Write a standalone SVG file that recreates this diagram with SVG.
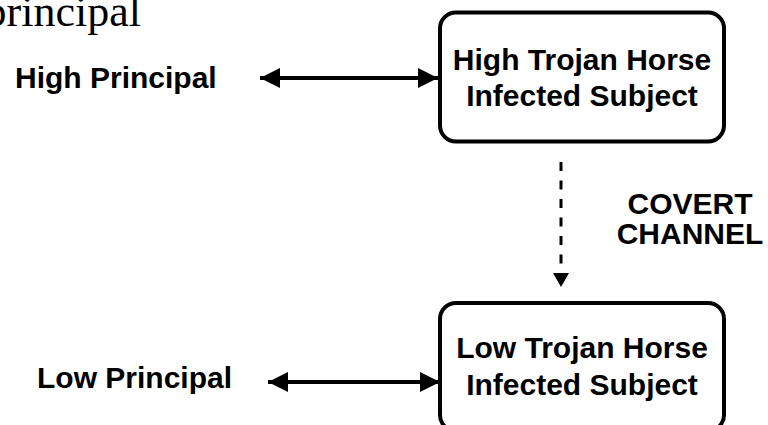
<svg xmlns="http://www.w3.org/2000/svg" width="768" height="425" viewBox="0 0 768 425">
<style>
.lbl{font-family:"Liberation Sans",Arial,sans-serif;font-weight:bold;font-size:30px;fill:#000}
.box{fill:#fff;stroke:#000;stroke-width:4}
.conn{stroke:#000;stroke-width:4;fill:none}
</style>
<defs>
<marker id="ah" viewBox="0 0 20 20" refX="20" refY="10" markerWidth="20" markerHeight="20" markerUnits="userSpaceOnUse" orient="auto-start-reverse">
<path d="M0,0 L20,10 L0,20 Z" fill="#000"/>
</marker>
<marker id="ahs" viewBox="0 0 14 16" refX="14" refY="8" markerWidth="14" markerHeight="16" markerUnits="userSpaceOnUse" orient="auto">
<path d="M0,0 L14,8 L0,16 Z" fill="#000"/>
</marker>
</defs>
<rect width="768" height="425" fill="#fff"/>
<text x="141" y="26" font-family="Liberation Serif,Times New Roman,serif" font-size="44" text-anchor="end" fill="#000">principal</text>
<g id="high-principal"><text class="lbl" x="15" y="88">High Principal</text></g>
<g id="low-principal"><text class="lbl" x="37" y="388">Low Principal</text></g>
<g id="high-subject">
<rect class="box" x="440" y="12.5" width="284" height="129" rx="16"/>
<text class="lbl" x="582" y="70" text-anchor="middle">High Trojan Horse</text>
<text class="lbl" x="582" y="106" text-anchor="middle">Infected Subject</text>
</g>
<g id="low-subject">
<rect class="box" x="440" y="303" width="284" height="128" rx="16"/>
<text class="lbl" x="582" y="358" text-anchor="middle">Low Trojan Horse</text>
<text class="lbl" x="582" y="395" text-anchor="middle">Infected Subject</text>
</g>
<g id="covert-label">
<text class="lbl" x="690" y="214" text-anchor="middle">COVERT</text>
<text class="lbl" x="690" y="244" text-anchor="middle">CHANNEL</text>
</g>
<g id="connectors">
<line class="conn" x1="260" y1="78" x2="438" y2="78" marker-start="url(#ah)" marker-end="url(#ah)"/>
<line class="conn" x1="268" y1="382" x2="440" y2="382" marker-start="url(#ah)" marker-end="url(#ah)"/>
<line x1="561" y1="162" x2="561" y2="287" stroke="#000" stroke-width="3" stroke-dasharray="9 9.5" marker-end="url(#ahs)"/>
</g>
</svg>
